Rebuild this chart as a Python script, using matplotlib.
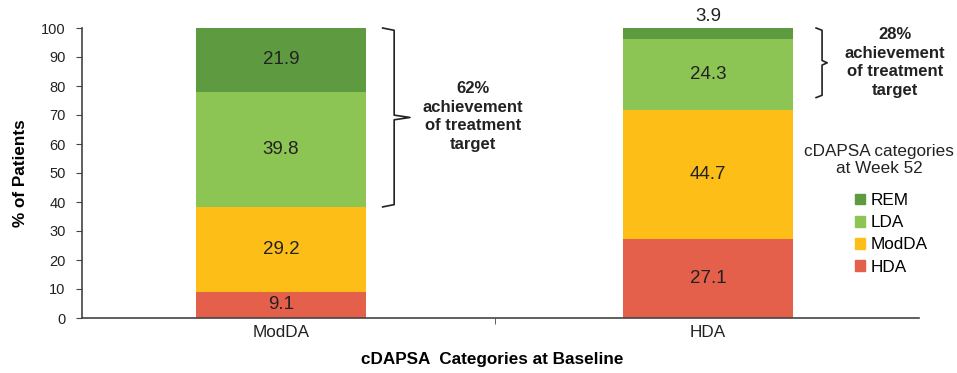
import matplotlib.pyplot as plt
from matplotlib.patches import Patch
import numpy as np

plt.rcParams['font.family'] = ['Liberation Sans', 'DejaVu Sans']

# cDAPSA at baseline -> distribution at week 52 (%)
baseline = ['ModDA', 'HDA']
week52_cats = ['HDA', 'ModDA', 'LDA', 'REM']
hda = [9.1, 27.1]
modda = [29.2, 44.7]
lda = [39.8, 24.3]
rem = [21.9, 3.9]
target = ['62%', '28%']

colores = {'HDA': '#E5604A', 'ModDA': '#FDBE17', 'LDA': '#8DC555', 'REM': '#5E9A40'}
series = [hda, modda, lda, rem]

fig = plt.figure(figsize=(9.57, 3.73), dpi=100)
ax = fig.add_axes([82 / 957, 55 / 373, 837 / 957, 290 / 373])

x = np.arange(len(baseline))
fondo = np.zeros(len(baseline))
for nombre, vals in zip(week52_cats, series):
    vals = np.array(vals)
    ax.bar(x, vals, bottom=fondo, width=0.40, color=colores[nombre], linewidth=0)
    for i, v in enumerate(vals):
        if v < 8:
            # segmento muy pequeño: etiqueta encima de la barra
            ax.text(x[i], fondo[i] + v + 1.0, f'{v:.1f}', ha='center', va='bottom',
                    fontsize=13.5, color='#222222')
        else:
            ax.text(x[i], fondo[i] + v / 2, f'{v:.1f}', ha='center', va='center',
                    fontsize=13.5, color='#222222')
    fondo += vals

ax.set_xlim(-0.466, 1.494)
ax.set_ylim(0, 100)
ax.set_yticks(np.arange(0, 101, 10))
ax.set_xticks(x)
ax.set_xticklabels(baseline)
ax.tick_params(axis='x', length=0, labelsize=12.3, pad=5, colors='#222222')
ax.set_xticks([0.5], minor=True)
ax.tick_params(axis='x', which='minor', length=4, color='#444444')
ax.tick_params(axis='y', length=4.3, direction='out', labelsize=10.5, pad=7.5,
               colors='#222222')
ax.tick_params(axis='y', color='#444444')
for s in ['top', 'right']:
    ax.spines[s].set_visible(False)
for s in ['left', 'bottom']:
    ax.spines[s].set_color('#444444')
    ax.spines[s].set_linewidth(1.2)

ax.set_ylabel('% of Patients', fontsize=12.3, fontweight='bold')
ax.yaxis.set_label_coords(-54 / 837, 0.5)
ax.set_xlabel('cDAPSA  Categories at Baseline', fontsize=12.3, fontweight='bold')
ax.xaxis.set_label_coords(410 / 837, -34 / 290)


def llave(xv, y0, y1, gancho, punta):
    # corchete con punta hacia la derecha
    ym = (y0 + y1) / 2
    ax.plot([xv - gancho, xv, xv, xv + punta, xv, xv, xv - gancho],
            [y1, y1 - 0.8, ym + 0.8, ym, ym - 0.8, y0 + 0.8, y0],
            color='#222222', lw=1.2, clip_on=False, solid_joinstyle='round')


# ModDA: LDA + REM
llave(0.265, hda[0] + modda[0], 100, 0.027, 0.037)
ax.text(0.450, 69.5, f'{target[0]}\nachievement\nof treatment\ntarget', ha='center', va='center',
        fontsize=12, fontweight='bold', linespacing=1.3, color='#222222')
# HDA: LDA + REM
llave(1.267, 76, 100, 0.014, 0.012)
ax.text(1.438, 88.1, f'{target[1]}\nachievement\nof treatment\ntarget', ha='center', va='center',
        fontsize=12, fontweight='bold', linespacing=1.3, color='#222222', clip_on=False)

# leyenda: título aparte y cuadros debajo
fig.text(879 / 957, 1 - 160 / 373, 'cDAPSA categories\nat Week 52', ha='center', va='center',
         fontsize=12.3, linespacing=1.15, color='#222222')
handles = [Patch(color=colores[c], label=c) for c in reversed(week52_cats)]
leg = fig.legend(handles=handles, loc='upper left', bbox_to_anchor=(855 / 957, 1 - 193 / 373),
                 frameon=False, fontsize=12.3, handlelength=0.6, handleheight=0.6,
                 handletextpad=0.3, labelspacing=0.42, borderpad=0, borderaxespad=0)

fig.savefig('out.png', dpi=100)
